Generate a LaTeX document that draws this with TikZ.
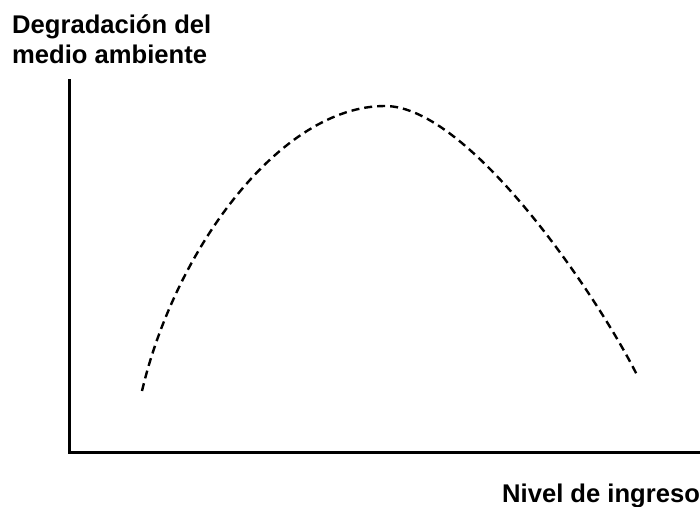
\documentclass[tikz,border=0pt]{standalone}
\usepackage{fontspec}
\setmainfont{Liberation Sans}
\begin{document}
\begin{tikzpicture}[x=1pt,y=-1pt,
  axislabel/.style={font=\fontsize{25.6}{30}\selectfont\bfseries, inner sep=0pt, anchor=base west},
  axisline/.style={line width=3pt, line cap=rect},
  curveline/.style={line width=2.4pt, dash pattern=on 8pt off 5pt}]
\useasboundingbox (0,0) rectangle (700,506);
\node[axislabel] (ylab1) at (12,33) {Degradación del};
\node[axislabel] (ylab2) at (12,63) {medio ambiente};
\node[axislabel] (xlab) at (502,502) {Nivel de ingreso};
\coordinate (ytop) at (69,80);
\coordinate (O) at (69,452);
\coordinate (xend) at (702,452);
\coordinate (cstart) at (142,391);
\coordinate (cpeak) at (385,106);
\coordinate (cend) at (638,377);
\draw[axisline] (ytop) -- (O) -- (xend);
\draw[curveline] (cstart) .. controls (175,250) and (280,106) .. (cpeak)
  .. controls (470,106) and (600,300) .. (cend);
\end{tikzpicture}
\end{document}
